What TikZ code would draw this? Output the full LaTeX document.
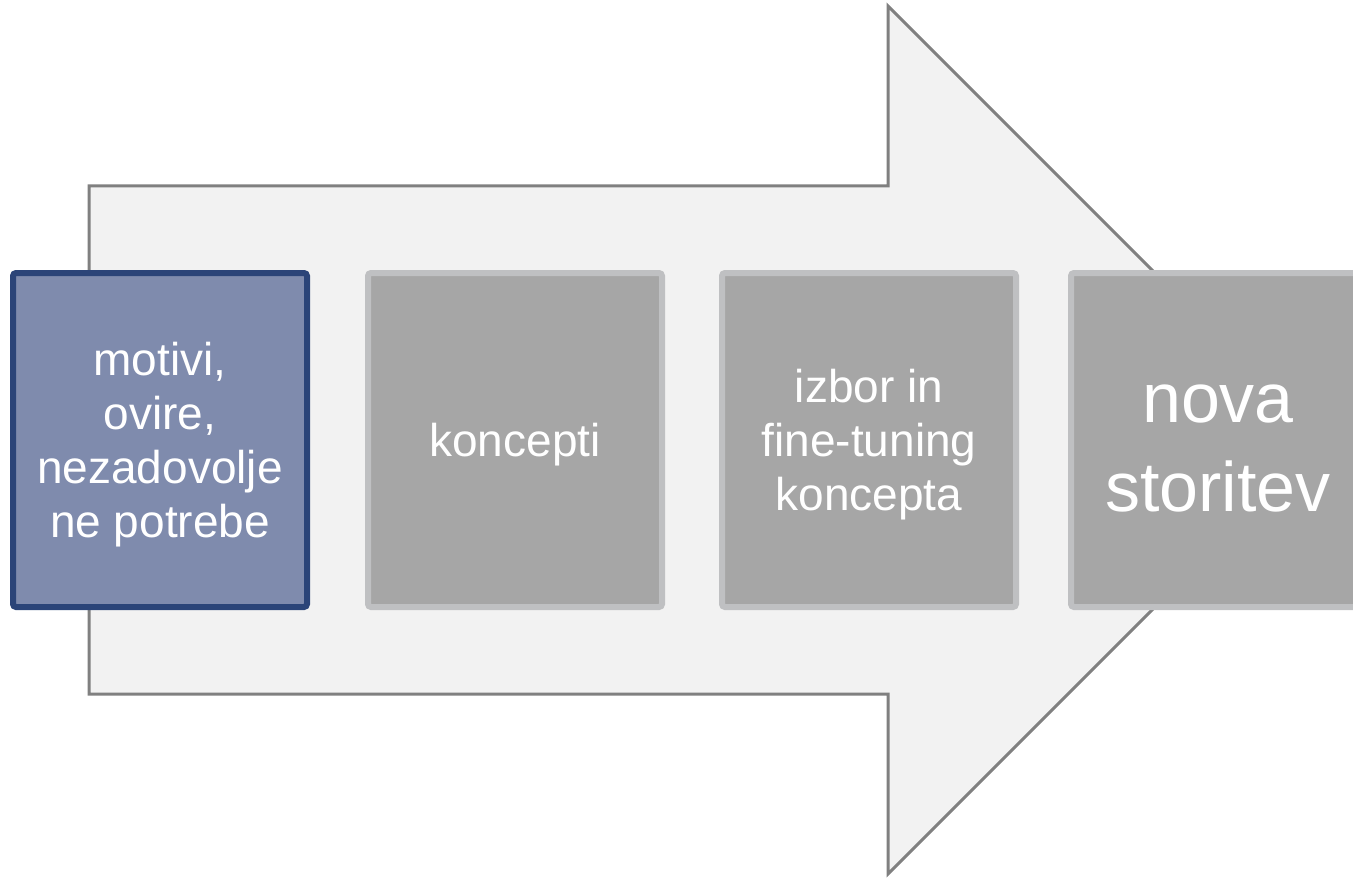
\documentclass[tikz,border=0pt]{standalone}
\usepackage{fontspec}
\setmainfont{Liberation Sans}
\begin{document}
\definecolor{arrowfill}{HTML}{F2F2F2}
\definecolor{arrowline}{HTML}{808080}
\definecolor{stepfill}{HTML}{A6A6A6}
\definecolor{stepline}{HTML}{BFC0C2}
\definecolor{activefill}{HTML}{7F8BAD}
\definecolor{activeline}{HTML}{2B4478}
\begin{tikzpicture}[x=1pt,y=-1pt,
  stagebox/.style={rectangle, rounded corners=3pt, line width=6pt,
    minimum width=294pt, minimum height=334pt, inner sep=0pt},
  graystage/.style={stagebox, fill=stepfill, draw=stepline},
  activestage/.style={stagebox, fill=activefill, draw=activeline},
  stagetext/.style={inner sep=0pt, align=center, text=white,
    font=\fontsize{46}{54}\selectfont},
  bigtext/.style={stagetext, font=\fontsize{70}{89}\selectfont},
  bigarrow/.style={fill=arrowfill, draw=arrowline, line width=3pt, line join=miter}]
  \clip (0,0) rectangle (1353,880);
  \useasboundingbox (0,0) rectangle (1353,880);
  % large block arrow behind the stages
  \draw[bigarrow] (89,186) -- (888,186) -- (888,6) -- (1322,440)
    -- (888,874) -- (888,694) -- (89,694) -- cycle;
  % process stages
  \node[activestage] (s1) at (160,440) {};
  \node[graystage] (s2) at (515,440) {};
  \node[graystage] (s3) at (869,440) {};
  \node[graystage] (s4) at (1218,440) {};
  % stage captions
  \node[stagetext] (t1) at ([yshift=-5pt]s1.center) {motivi,\\ovire,\\nezadovolje\\ne potrebe};
  \node[stagetext] (t2) at ([yshift=-5pt]s2.center) {koncepti};
  \node[stagetext] (t3) at ([yshift=-5pt]s3.center) {izbor in\\fine-tuning\\koncepta};
  \node[bigtext] (t4) at ([yshift=-9pt]s4.center) {nova\\storitev};
\end{tikzpicture}
\end{document}
